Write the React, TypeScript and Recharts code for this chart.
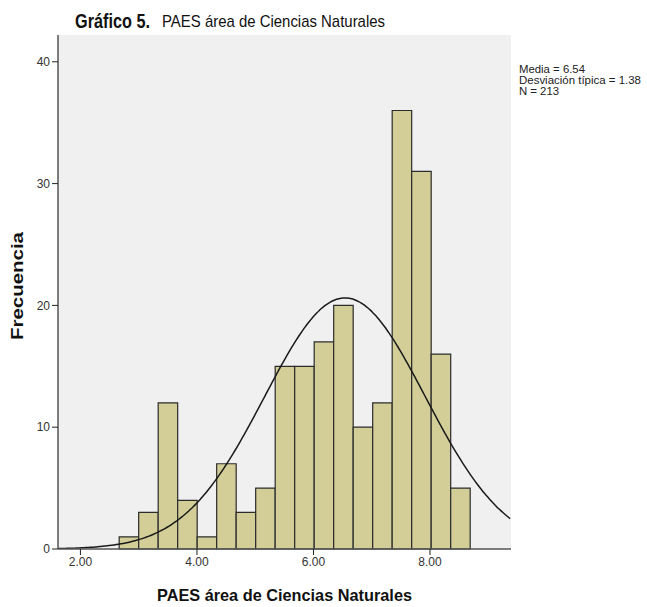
import React from "react";
import {
  ComposedChart,
  XAxis,
  YAxis,
  Line,
  ReferenceArea,
  CartesianGrid,
} from "recharts";

const BIN_COUNTS = [1, 3, 12, 4, 1, 7, 3, 5, 15, 15, 17, 20, 10, 12, 36, 31, 16, 5];
const BIN_START = 2.665;
const BIN_WIDTH = 0.3347;
const X_TICKS = [2, 4, 6, 8];
const Y_TICKS = [0, 10, 20, 30, 40];
const MEAN = 6.54;
const SD = 1.38;
const N = 213;
const X_MIN = 1.615;
const X_MAX = 9.39;
const Y_MAX = 42.2;

const bins = BIN_COUNTS.map((c, i) => ({
  x1: BIN_START + i * BIN_WIDTH,
  x2: BIN_START + (i + 1) * BIN_WIDTH,
  count: c,
}));

// Normal curve defined by the displayed statistics (mean, sd, N, bin width)
const curve: { x: number; y: number }[] = [];
for (let x = X_MIN; x <= X_MAX + 1e-9; x += 0.04) {
  const z = (x - MEAN) / SD;
  curve.push({
    x,
    y: (N * BIN_WIDTH * Math.exp(-0.5 * z * z)) / (SD * Math.sqrt(2 * Math.PI)),
  });
}

const W = 647;
const H = 607;
const FONT = "'Liberation Sans', Arial, sans-serif";

export default function App() {
  return (
    <div style={{ position: "absolute", left: 0, top: 0, width: W, height: H, background: "#fff" }}>
      <ComposedChart
        width={W}
        height={H}
        data={curve}
        margin={{ top: 35, right: 136, bottom: 28, left: 18 }}
      >
        <CartesianGrid fill="#F0F0F0" horizontal={false} vertical={false} stroke="none" />
        <XAxis
          dataKey="x"
          type="number"
          domain={[X_MIN, X_MAX]}
          ticks={X_TICKS}
          allowDataOverflow
          tickFormatter={(v: number) => v.toFixed(2)}
          height={30}
          axisLine={{ stroke: "#555", strokeWidth: 1.5 }}
          tickLine={{ stroke: "#222" }}
          tickSize={6}
          tick={{ fill: "#333", fontSize: 12, fontFamily: FONT }}
        />
        <XAxis
          xAxisId="top"
          orientation="top"
          type="number"
          domain={[X_MIN, X_MAX]}
          tick={false}
          tickLine={false}
          height={0}
          axisLine={{ stroke: "#555", strokeWidth: 1.5 }}
        />
        <YAxis
          type="number"
          domain={[0, Y_MAX]}
          ticks={Y_TICKS}
          allowDataOverflow
          width={40}
          axisLine={{ stroke: "#555", strokeWidth: 1.5 }}
          tickLine={{ stroke: "#222" }}
          tickSize={6}
          tick={{ fill: "#333", fontSize: 12, fontFamily: FONT }}
        />
        <YAxis
          yAxisId="right"
          orientation="right"
          type="number"
          domain={[0, Y_MAX]}
          tick={false}
          tickLine={false}
          width={0}
          axisLine={{ stroke: "#555", strokeWidth: 1.5 }}
        />
        {bins.map((b, i) => (
          <ReferenceArea
            key={i}
            x1={b.x1}
            x2={b.x2}
            y1={0}
            y2={b.count}
            fill="#D3CE98"
            fillOpacity={1}
            stroke="#2b2b2b"
            strokeWidth={1.2}
            strokeOpacity={1}
            ifOverflow="visible"
          />
        ))}
        <Line
          type="monotone"
          dataKey="y"
          stroke="#1a1a1a"
          strokeWidth={1.5}
          dot={false}
          activeDot={false}
          isAnimationActive={false}
        />
      </ComposedChart>
      <svg
        width={W}
        height={H}
        style={{ position: "absolute", left: 0, top: 0, pointerEvents: "none" }}
      >
        <text x={75} y={28} fontFamily={FONT} fontWeight="bold" fontSize={21} fill="#111" textLength={75} lengthAdjust="spacingAndGlyphs">
          Gráfico 5.
        </text>
        <text x={162} y={27} fontFamily={FONT} fontSize={17} fill="#111" textLength={223} lengthAdjust="spacingAndGlyphs">
          PAES área de Ciencias Naturales
        </text>
        <text x={519} y={73} fontFamily={FONT} fontSize={11.5} fill="#222" textLength={66} lengthAdjust="spacingAndGlyphs">
          Media = 6.54
        </text>
        <text x={519} y={84} fontFamily={FONT} fontSize={11.5} fill="#222" textLength={122} lengthAdjust="spacingAndGlyphs">
          Desviación típica = 1.38
        </text>
        <text x={519} y={95} fontFamily={FONT} fontSize={11.5} fill="#222" textLength={40} lengthAdjust="spacingAndGlyphs">
          N = 213
        </text>
        <text x={157} y={601} fontFamily={FONT} fontWeight="bold" fontSize={17} fill="#111" textLength={255} lengthAdjust="spacingAndGlyphs">
          PAES área de Ciencias Naturales
        </text>
        <text
          transform="translate(23,340) rotate(-90)"
          x={0}
          y={0}
          fontFamily={FONT}
          fontWeight="bold"
          fontSize={16}
          fill="#111"
          textLength={108}
          lengthAdjust="spacingAndGlyphs"
        >
          Frecuencia
        </text>
      </svg>
    </div>
  );
}
